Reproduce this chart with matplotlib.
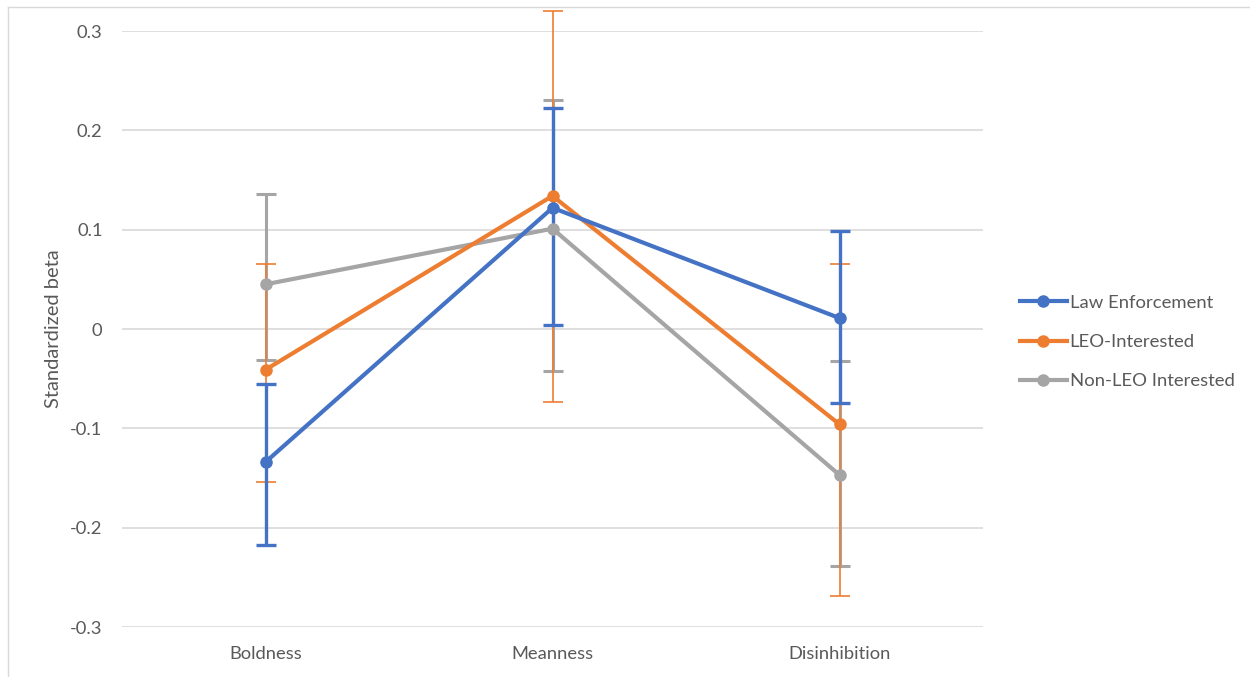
import matplotlib.pyplot as plt
import numpy as np
from matplotlib.lines import Line2D

# ===============================
#  DATA
# ===============================
categories = ["Boldness", "Meanness", "Disinhibition"]
series_names = ["Law Enforcement", "LEO-Interested", "Non-LEO Interested"]

law_beta = [-0.134, 0.122, 0.011]
law_upper = [-0.055, 0.222, 0.099]
law_lower = [-0.217, 0.004, -0.074]

leo_beta = [-0.041, 0.134, -0.096]
leo_upper = [0.065, 0.320, 0.065]
leo_lower = [-0.154, -0.073, -0.269]

non_beta = [0.045, 0.101, -0.147]
non_upper = [0.136, 0.231, -0.032]
non_lower = [-0.031, -0.042, -0.239]

y_ticks = [-0.3, -0.2, -0.1, 0, 0.1, 0.2, 0.3]
y_tick_labels = ["-0.3", "-0.2", "-0.1", "0", "0.1", "0.2", "0.3"]

# ===============================
#  STYLE
# ===============================
plt.rcParams['font.family'] = ['Lato', 'DejaVu Sans']
text_color = "#595959"
grid_color = "#d9d9d9"
colors = ["#4472C4", "#ED7D31", "#A5A5A5"]
err_widths = [2.4, 1.2, 2.2]

W, H = 1250, 677
fig = plt.figure(figsize=(W / 100, H / 100), dpi=100)
ax = fig.add_axes([122 / W, (H - 627) / H, (983 - 122) / W, 596 / H])

x = np.arange(len(categories))
series = [
    (law_beta, law_upper, law_lower),
    (leo_beta, leo_upper, leo_lower),
    (non_beta, non_upper, non_lower),
]

# error bars (drawn under the lines)
for i, (beta, up, lo) in enumerate(series):
    beta = np.array(beta)
    yerr = [beta - np.array(lo), np.array(up) - beta]
    eb = ax.errorbar(x, beta, yerr=yerr, fmt="none", ecolor=colors[i],
                     elinewidth=err_widths[i], capsize=7.5,
                     capthick=err_widths[i], zorder=2 + (2 - i) * 0.1)
    for art in eb.lines[1] + eb.lines[2]:
        art.set_clip_on(False)

# lines with markers
for i, (beta, up, lo) in enumerate(series):
    ax.plot(x, beta, color=colors[i], linewidth=3, marker="o",
            markersize=8, zorder=3 + (2 - i) * 0.1, clip_on=False,
            solid_capstyle="round")

ax.set_xlim(-0.5, len(categories) - 0.5)
ax.set_ylim(-0.3, 0.3)
ax.set_yticks(y_ticks)
ax.set_yticklabels(y_tick_labels)
ax.set_xticks(x)
ax.set_xticklabels(categories)
ax.tick_params(axis="both", length=0, labelsize=13.2, colors=text_color)
ax.tick_params(axis="y", pad=14)
ax.tick_params(axis="x", pad=14)
ax.yaxis.grid(True, color=grid_color, linewidth=1.2)
ax.set_axisbelow(True)
for sp in ax.spines.values():
    sp.set_visible(False)

ax.set_ylabel("Standardized beta", fontsize=14.5, color=text_color, labelpad=6)

# legend
handles = [Line2D([0], [0], color=c, linewidth=3, marker="o", markersize=8)
           for c in colors]
fig.legend(handles, series_names, loc="center left",
           bbox_to_anchor=(1003 / W, 1 - 342 / H), frameon=False,
           fontsize=13.3, labelcolor=text_color, handlelength=2.55,
           handletextpad=0.15, labelspacing=1.25)

# chart area border
fig.add_artist(Line2D([8 / W, 1], [1 - 7 / H, 1 - 7 / H],
                      transform=fig.transFigure, color="#d9d9d9", linewidth=1))
fig.add_artist(Line2D([8 / W, 8 / W], [0, 1 - 7 / H],
                      transform=fig.transFigure, color="#d9d9d9", linewidth=1))

fig.savefig("out.png", dpi=100)
